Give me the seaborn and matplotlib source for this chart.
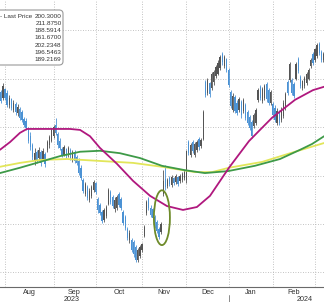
import numpy as np
import pandas as pd
import matplotlib
matplotlib.use("Agg")
import matplotlib.pyplot as plt
import matplotlib.transforms as mtransforms
from matplotlib.patches import Ellipse, FancyBboxPatch
import seaborn as sns

# ---------------- data (trading-day index, 0 = 1 Aug 2023) ----------------
first_day = -2
opens = [197.2, 196.0, 197.8, 197.0, 194.5, 195.7, 193.6, 194.8, 192.8, 193.8,
         193.0, 191.6, 191.2, 189.6, 188.2, 186.2, 183.0, 184.8, 183.6, 184.9,
         183.4, 184.4, 185.2, 186.2, 187.2, 188.2, 190.4, 188.6, 187.2, 185.5,
         184.3, 185.4, 184.2, 185.3, 183.2, 184.9, 183.8, 183.0, 181.6, 179.0,
         176.2, 177.6, 175.0, 175.8, 177.0, 178.4, 175.2, 174.0, 172.4, 170.8,
         171.6, 174.2, 176.6, 175.6, 173.0, 173.4, 176.2, 175.2, 172.4, 171.4,
         169.0, 166.6, 166.8, 166.2, 165.2, 162.6, 163.4, 164.6, 167.6, 172.3,
         175.2, 173.4, 173.0, 171.4, 170.4, 169.0, 168.3, 176.2, 179.2, 177.8,
         179.5, 178.0, 179.4, 178.6, 179.6, 178.8, 179.0, 179.4, 179.0, 186.9,
         184.2, 187.0, 184.3, 185.2, 187.6, 186.0, 187.6, 199.2, 197.0, 199.0,
         198.0, 199.2, 200.5, 201.0, 202.2, 205.0, 202.6, 204.0, 201.8, 197.2,
         193.6, 196.2, 195.0, 193.5, 195.2, 193.3, 194.6, 193.0, 192.0, 191.0,
         190.2, 190.8, 195.6, 198.2, 195.4, 196.0, 198.8, 197.6, 194.9, 194.8,
         194.0, 190.8, 193.0, 191.4, 192.3, 193.9, 199.2, 199.6, 199.6, 198.8,
         200.0, 204.0, 200.4, 198.0, 198.4, 199.0, 200.0, 202.5, 205.1, 203.8,
         204.6, 207.2, 205.5, 203.8]
highs = [197.6, 199.1, 198.0, 197.6, 196.6, 196.0, 195.6, 195.2, 194.7, 194.1,
         193.5, 192.1, 191.9, 190.0, 189.0, 186.7, 185.7, 185.3, 185.9, 185.3,
         185.7, 184.8, 187.3, 188.3, 189.8, 190.4, 191.9, 189.0, 187.7, 185.9,
         186.3, 185.7, 186.1, 185.7, 185.3, 185.3, 184.2, 183.6, 182.2, 179.5,
         178.7, 178.0, 177.4, 178.0, 179.1, 178.7, 175.6, 174.3, 172.9, 173.3,
         173.9, 177.4, 177.0, 176.0, 175.6, 176.0, 176.6, 175.6, 172.9, 171.9,
         169.4, 168.8, 167.1, 166.7, 165.7, 165.0, 165.7, 166.1, 169.8, 175.0,
         175.6, 173.9, 173.3, 171.9, 170.8, 169.4, 170.4, 181.1, 182.2, 179.5,
         179.9, 180.1, 179.7, 180.3, 179.9, 180.3, 180.7, 181.1, 185.3, 187.3,
         186.7, 187.3, 186.9, 187.3, 187.9, 187.7, 193.5, 199.7, 200.1, 199.3,
         201.3, 201.8, 202.8, 203.8, 204.8, 205.5, 204.8, 204.2, 202.2, 197.6,
         197.0, 196.6, 195.6, 196.2, 195.6, 196.0, 194.9, 193.5, 192.5, 191.4,
         192.9, 193.9, 198.0, 198.7, 198.2, 198.9, 199.3, 198.0, 197.6, 195.2,
         194.5, 193.9, 193.5, 194.1, 195.6, 197.2, 199.7, 203.4, 200.1, 199.3,
         203.4, 204.4, 200.7, 199.7, 200.5, 201.3, 202.2, 204.2, 205.5, 206.3,
         207.3, 207.5, 205.9, 205.5]
lows = [194.9, 195.6, 195.6, 194.1, 193.9, 193.5, 193.1, 192.5, 192.3, 191.4,
        191.0, 190.0, 189.4, 186.7, 185.3, 183.2, 182.2, 182.6, 183.2, 182.0,
        183.2, 181.8, 184.8, 185.7, 186.9, 187.7, 188.3, 185.7, 185.3, 183.8,
        184.0, 183.6, 183.8, 183.2, 182.8, 182.6, 182.2, 180.1, 179.1, 176.4,
        175.8, 174.9, 174.5, 175.4, 176.6, 176.2, 172.3, 171.9, 170.2, 170.4,
        171.2, 173.9, 174.1, 173.3, 172.5, 172.9, 173.5, 172.9, 169.8, 168.8,
        166.7, 166.1, 164.2, 163.2, 162.2, 162.2, 163.0, 164.2, 167.3, 171.9,
        172.9, 171.4, 170.8, 169.2, 168.2, 167.0, 167.9, 175.8, 177.0, 177.4,
        177.8, 177.6, 178.0, 178.2, 177.8, 178.5, 178.7, 179.1, 178.5, 184.2,
        183.8, 184.6, 183.8, 184.8, 185.3, 185.7, 187.3, 196.2, 196.6, 196.2,
        197.6, 198.7, 200.1, 200.7, 201.7, 202.8, 202.2, 201.3, 198.2, 193.9,
        193.1, 192.9, 192.5, 193.1, 191.9, 192.9, 191.4, 190.4, 189.4, 187.7,
        189.8, 190.4, 195.2, 195.6, 194.9, 195.6, 195.2, 194.5, 194.5, 191.9,
        191.0, 190.4, 190.4, 191.0, 191.9, 193.5, 196.6, 199.3, 196.6, 196.0,
        199.7, 201.1, 198.0, 197.6, 198.0, 198.7, 199.7, 202.2, 202.8, 203.4,
        204.2, 204.8, 203.4, 203.4]
closes = [195.4, 198.4, 196.0, 194.6, 196.0, 194.0, 195.0, 193.0, 194.2, 191.9,
          191.5, 190.4, 189.8, 187.2, 185.8, 183.8, 184.6, 183.2, 185.2, 182.6,
          185.0, 182.4, 187.0, 188.0, 189.4, 190.0, 188.8, 186.2, 185.6, 184.2,
          185.8, 184.0, 185.6, 183.6, 184.8, 183.0, 182.6, 180.6, 179.5, 176.9,
          178.2, 175.4, 176.8, 177.6, 178.6, 176.6, 172.8, 172.3, 170.6, 172.8,
          173.5, 177.0, 174.6, 173.8, 175.0, 175.6, 174.0, 173.3, 170.2, 169.2,
          167.1, 168.2, 164.6, 163.8, 162.6, 164.6, 165.2, 165.8, 169.4, 174.6,
          173.4, 171.8, 171.2, 169.6, 168.6, 167.4, 170.0, 178.8, 177.6, 179.0,
          178.2, 179.6, 178.4, 180.0, 178.2, 180.0, 180.4, 180.8, 185.0, 184.6,
          186.2, 185.0, 186.4, 187.0, 185.8, 187.4, 193.0, 196.6, 199.6, 196.8,
          201.0, 201.4, 202.4, 203.2, 204.4, 203.4, 204.4, 201.8, 198.6, 194.4,
          196.4, 193.4, 192.9, 195.8, 192.4, 195.6, 191.9, 190.8, 189.8, 188.2,
          192.4, 193.5, 197.6, 196.0, 197.8, 198.4, 195.8, 195.0, 197.2, 192.4,
          191.4, 193.2, 190.9, 193.6, 195.0, 196.8, 197.0, 203.0, 197.0, 196.4,
          203.0, 201.6, 198.4, 199.4, 200.1, 200.9, 201.8, 203.9, 203.2, 206.0,
          206.9, 205.2, 203.8, 205.0]

# moving averages (trading-day position, value)
ma50_t = [-2.4, 2.4, 7.1, 10.4, 21.3, 30.8, 35.6, 40.3, 45.0, 53.1, 60.7, 68.8,
          76.8, 84.4, 91.0, 97.2, 106.2, 115.7, 120.9, 126.6, 137.5, 146.0, 151.3]
ma50_v = [185.3, 186.9, 188.8, 189.6, 189.6, 189.6, 189.4, 188.1, 185.7, 182.4,
          178.9, 175.8, 173.7, 172.9, 173.5, 175.8, 181.6, 187.1, 189.4, 191.9,
          195.6, 197.6, 198.3]
ma100_t = [-2.4, 7.1, 16.6, 26.1, 35.6, 45.0, 54.5, 64.0, 74.4, 85.3, 94.8,
           105.7, 118.5, 130.4, 139.9, 145.6, 151.3]
ma100_v = [180.5, 181.6, 182.8, 184.0, 184.9, 185.1, 184.6, 183.6, 182.0, 181.1,
           180.5, 180.9, 182.0, 183.4, 185.3, 186.5, 188.1]
ma200_t = [-2.4, 7.1, 16.6, 29.4, 45.0, 60.7, 74.4, 90.1, 98.2, 106.2, 121.9,
           137.5, 151.3]
ma200_v = [181.8, 182.6, 183.2, 183.4, 183.0, 182.6, 181.8, 180.7, 180.7, 181.6,
           182.8, 184.9, 186.7]

month_names = ["Aug", "Sep", "Oct", "Nov", "Dec", "Jan", "Feb"]
month_days = [23, 20, 22, 21, 20, 21, 20]
year_labels = ["2023", "2024"]
price_grid = [160, 170, 180, 190, 200, 210]
legend_title = "- Last Price"
legend_values = ["200.3000", "211.8750", "188.5914", "161.6700",
                 "202.2348", "196.5463", "189.2169"]

# ---------------- figure ----------------
sns.set_style("white")
plt.rcParams['font.family'] = ['Liberation Sans', 'DejaVu Sans']

W, H = 324, 302
fig = plt.figure(figsize=(W / 100, H / 100), dpi=100)
ax = fig.add_axes([0, 15.3 / H, 1, 286.7 / H])

n = len(closes)
days = np.arange(first_day, first_day + n)
df = pd.DataFrame({"day": days, "open": opens, "high": highs,
                   "low": lows, "close": closes})
up = df["close"] >= df["open"]
up_col, dn_col = "#555555", "#4b92d4"
cols = np.where(up, up_col, dn_col)

ax.vlines(df["day"], df["low"], df["high"], colors=cols, lw=0.6, zorder=3)
body_lo = np.minimum(df["open"], df["close"])
body_h = np.abs(df["close"] - df["open"])
ax.bar(df["day"], body_h, bottom=body_lo, width=0.6, color=cols,
       linewidth=0, zorder=3)

for t, v, c in [(ma200_t, ma200_v, "#e2e65a"), (ma100_t, ma100_v, "#3e9a48"),
                (ma50_t, ma50_v, "#b0187e")]:
    sns.lineplot(x=t, y=v, ax=ax, color=c, lw=1.3, sort=False, zorder=4)

ax.add_patch(Ellipse((74.4, 171.3), width=7.6, height=11.3, fill=False,
                     ec="#6e8b2a", lw=1.3, zorder=5))

# axes limits (trading-day index / price)
ax.set_xlim(-2.37, 151.26)
ax.set_ylim(157.07, 216.19)

month_starts = np.concatenate([[0], np.cumsum(month_days)])
mids = (month_starts[:-1] + month_starts[1:]) / 2
ax.set_xticks(month_starts)
ax.set_xticklabels([])
ax.set_xticks(mids, minor=True)
ax.set_xticklabels(month_names, minor=True)
ax.set_yticks(price_grid)
ax.set_yticklabels([])
ax.tick_params(axis="x", which="major", length=2, width=0.6, color="#888888",
               direction="out")
ax.tick_params(axis="x", which="minor", length=0, pad=1.5, labelsize=5.2,
               labelcolor="#333333")
ax.tick_params(axis="y", length=0)
ax.grid(True, which="major", ls=(0, (1, 2)), color="#b0b0b0", lw=0.6)
for s in ["top", "left", "right"]:
    ax.spines[s].set_visible(False)
ax.spines["bottom"].set_color("#6a6a6a")
ax.spines["bottom"].set_linewidth(0.8)

trans = mtransforms.blended_transform_factory(ax.transData, ax.transAxes)
ax.text(31.8, -0.043, year_labels[0], transform=trans, ha="center", va="center",
        fontsize=5.2, color="#333333")
ax.text(142.0, -0.043, year_labels[1], transform=trans, ha="center", va="center",
        fontsize=5.2, color="#333333")
ax.plot([month_starts[5], month_starts[5]], [-0.028, -0.06], transform=trans,
        color="#777777", lw=0.6, clip_on=False)

# legend box (figure pixel coordinates)
def fx(x):
    return x / W

def fy(y):
    return 1 - y / H

box = FancyBboxPatch((fx(-6), fy(65)), fx(69), 55 / H,
                     boxstyle="round,pad=0,rounding_size=0.012",
                     transform=fig.transFigure, fc="white", ec="#9a9a9a",
                     lw=0.8, zorder=10)
fig.patches.append(box)
fig.text(fx(0), fy(16), legend_title, ha="left", va="center", fontsize=4.6,
         color="#333333", zorder=11)
for i, v in enumerate(legend_values):
    fig.text(fx(61.5), fy(16 + 7.3 * i), v, ha="right", va="center",
             fontsize=4.6, color="#333333", zorder=11)

fig.savefig("out.png", dpi=100)
